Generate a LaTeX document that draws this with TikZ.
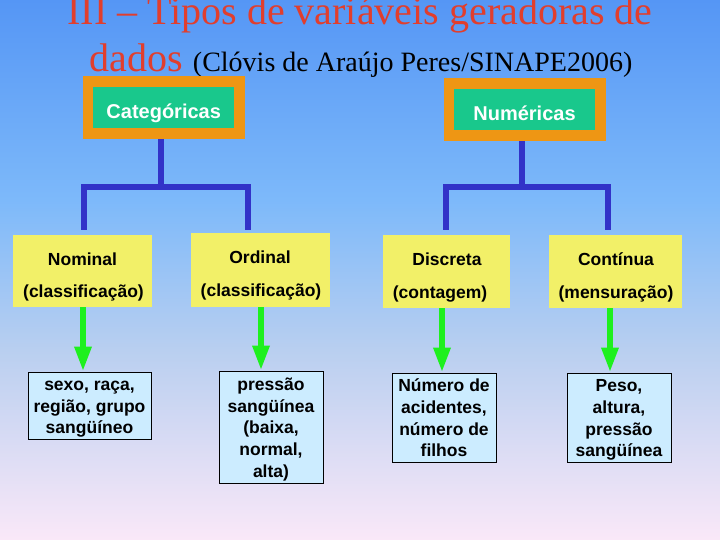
\documentclass[tikz,border=0pt]{standalone}
\usepackage{fontspec}
\setmainfont{Liberation Serif}
\setsansfont{Liberation Sans}
\usetikzlibrary{arrows.meta,calc}
\definecolor{bgtop}{RGB}{85,150,245}
\definecolor{bgmida}{RGB}{125,185,250}
\definecolor{bgmidb}{RGB}{185,207,240}
\definecolor{bgbot}{RGB}{250,232,248}
\pgfdeclareverticalshading{bgshade}{100bp}{color(0bp)=(bgbot); color(25bp)=(bgbot); color(42.6bp)=(bgmidb); color(56.5bp)=(bgmida); color(75bp)=(bgtop); color(100bp)=(bgtop)}
\definecolor{titlered}{RGB}{225,62,45}
\definecolor{boxorange}{RGB}{238,150,20}
\definecolor{boxgreen}{RGB}{25,200,140}
\definecolor{lineblue}{RGB}{50,50,200}
\definecolor{arrowgreen}{RGB}{30,240,30}
\definecolor{boxyellow}{RGB}{242,240,104}
\definecolor{boxcyan}{RGB}{204,236,255}
\newcommand\mystrut{\rule[-4pt]{0pt}{21.5pt}}
\begin{document}
\begin{tikzpicture}[x=1pt,y=-1pt,
  outerbox/.style={fill=boxorange, minimum width=162pt, minimum height=63pt, inner sep=0pt},
  innerbox/.style={fill=boxgreen, minimum width=141pt, minimum height=41pt, inner sep=0pt,
    text=white, font=\sffamily\bfseries\fontsize{20}{24}\selectfont, text height=22pt, text depth=0pt},
  ybox/.style={fill=boxyellow, inner sep=0pt, minimum height=73pt},
  ytext/.style={anchor=base, inner sep=0pt, font=\sffamily\bfseries\fontsize{17.5}{21}\selectfont},
  cbox/.style={fill=boxcyan, draw=black, line width=1pt, align=center, inner sep=0pt,
    font=\sffamily\bfseries\fontsize{17.5}{21.7}\selectfont},
  bline/.style={draw=lineblue, line width=6pt, line join=miter},
  garrow/.style={draw=arrowgreen, line width=6pt, -{Triangle[width=16pt,length=25pt]}}
]
\useasboundingbox (0,0) rectangle (720,540);
\shade[shading=bgshade] (0,0) rectangle (720,540);

% title
\node[anchor=base, inner sep=0pt, font=\fontsize{40}{48}\selectfont, text=titlered] (t1) at (360,25) {III – Tipos de variáveis geradoras de};
\node[anchor=base, inner sep=0pt, font=\fontsize{40}{48}\selectfont] (t2) at (361,72) {\textcolor{titlered}{dados} {\fontsize{28}{34}\selectfont(Clóvis de Araújo Peres/SINAPE2006)}};

% top boxes
\node[outerbox] (cat) at (163.6,107.7) {};
\node[innerbox] (catin) at (163.7,107.8) {Categóricas};
\node[outerbox] (num) at (524.5,109.7) {};
\node[innerbox] (numin) at (524.5,109.9) {Numéricas};

% yellow boxes
\node[ybox, minimum width=139pt, minimum height=72pt] (nom) at (82.5,271) {};
\node[ybox, minimum width=139pt, minimum height=74pt] (ord) at (260.5,270) {};
\node[ybox, minimum width=127pt] (disc) at (446.5,271.5) {};
\node[ybox, minimum width=133pt] (cont) at (615.5,271.5) {};

\node[ytext] (nom1) at (82.5,265) {Nominal};
\node[ytext] (nom2) at (83.5,297.5) {(classificação)};
\node[ytext] (ord1) at (260,263) {Ordinal};
\node[ytext] (ord2) at (261,296) {(classificação)};
\node[ytext] (disc1) at (447,265) {Discreta};
\node[ytext] (disc2) at (440,298) {(contagem)};
\node[ytext] (cont1) at (616,265) {Contínua};
\node[ytext] (cont2) at (616,298) {(mensuração)};

% cyan boxes
\node[cbox, minimum width=123pt, minimum height=67pt] (b1) at (89.5,405.5) {\mystrut sexo, raça,\\região, grupo\\sangüíneo\mystrut};
\node[cbox, minimum width=104pt, minimum height=112pt] (b2) at (271,427) {\mystrut pressão\\sangüínea\\(baixa,\\normal,\\alta)\mystrut};
\node[cbox, minimum width=104pt, minimum height=89pt] (b3) at (444,417.5) {\mystrut Número de\\acidentes,\\número de\\filhos\mystrut};
\node[cbox, minimum width=104pt, minimum height=89pt] (b4) at (619,417.5) {\mystrut Peso,\\altura,\\pressão\\sangüínea\mystrut};

% blue tree connectors
\coordinate (catb) at ($(cat.south)+(-2.6,0)$);
\coordinate (catj) at ($(catb)+(0,48)$);
\coordinate (cl) at (84,230);
\coordinate (cr) at (248,230);
\draw[bline] (catb) -- (catj);
\draw[bline] (cl) -- ++(0,-43) -| (cr);

\coordinate (numb) at ($(num.south)+(-2.5,0)$);
\coordinate (numj) at ($(numb)+(0,45)$);
\coordinate (nl) at (446,230);
\coordinate (nr) at (608,230);
\draw[bline] (numb) -- (numj);
\draw[bline] (nl) -- ++(0,-43) -| (nr);

% green arrows
\coordinate (a1) at ($(nom.south)+(0.5,0)$);
\coordinate (a2) at ($(ord.south)+(0.5,0)$);
\coordinate (a3) at ($(disc.south)+(-4.5,0)$);
\coordinate (a4) at ($(cont.south)+(-5.5,0)$);
\draw[garrow] (a1) -- (a1 |- b1.north);
\draw[garrow] (a2) -- (a2 |- b2.north);
\draw[garrow] (a3) -- (a3 |- b3.north);
\draw[garrow] (a4) -- (a4 |- b4.north);
\end{tikzpicture}
\end{document}
